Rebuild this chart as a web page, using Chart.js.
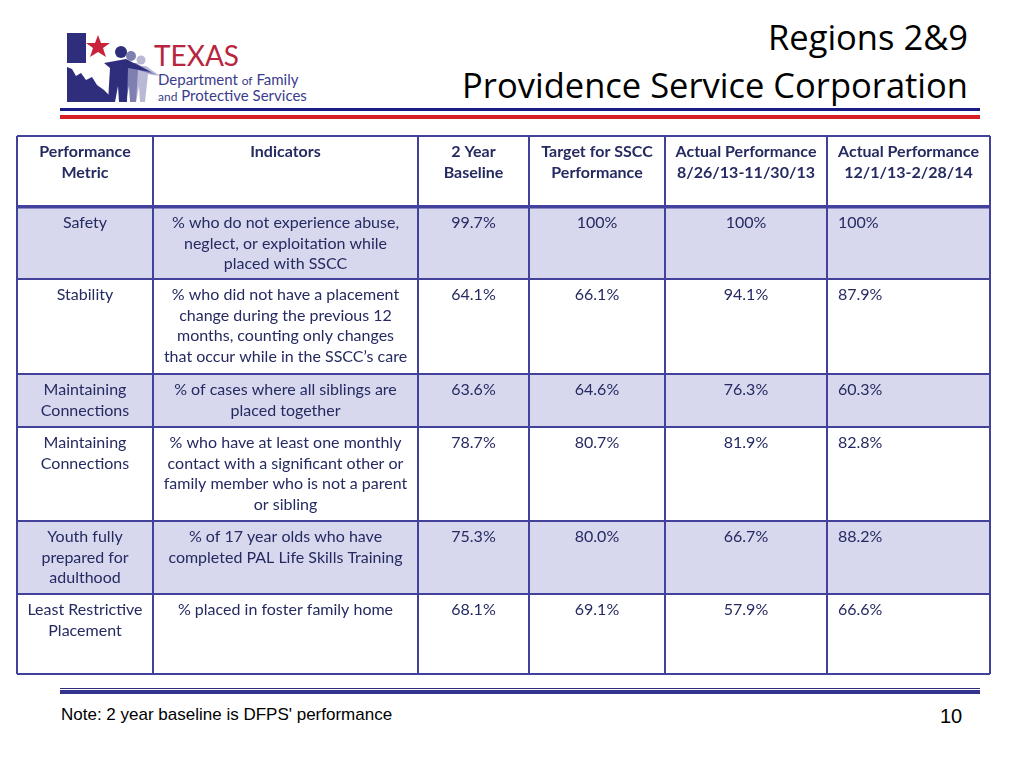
<!DOCTYPE html>
<html>
<head>
<meta charset="utf-8">
<script src="https://cdn.jsdelivr.net/npm/chart.js@4/dist/chart.umd.min.js"></script>
<style>
  html, body { margin: 0; padding: 0; background: #fff; }
  body { width: 1024px; height: 768px; position: relative; overflow: hidden; font-family: Lato, sans-serif; }
  .title { position: absolute; right: 56px; font-family: "Open Sans", sans-serif; font-size: 34.5px; line-height: 42px; color: #000; white-space: nowrap; }
  .rule { position: absolute; left: 60px; width: 920px; }
  #tableBox { position: absolute; left: 15px; top: 134px; width: 977px; height: 542px; }
  .note { position: absolute; left: 61px; top: 705px; font: 17px "Liberation Sans", Arial, sans-serif; color: #000; }
  .page { position: absolute; left: 940px; top: 705px; font: 20px "Liberation Sans", Arial, sans-serif; color: #000; }
</style>
</head>
<body>

<svg style="position:absolute;left:0;top:0" width="310" height="112" viewBox="0 0 310 112">
  <rect x="67" y="33" width="19" height="30" fill="#2e2e7c"/>
  <path d="M67,67 L72,69 L76,76 L81,73 L86,80 L92,77 L97,85 L104,90 L110,96 L114,102 L67,102 Z" fill="#2e2e7c"/>
  <polygon points="98,35 101,43 110,43 103,48 106,57 98,52 90,57 93,48 86,43 95,43" fill="#c8233a"/>
  <g fill="#b9b9d6">
    <circle cx="141" cy="60" r="4.5"/>
    <path d="M136,66 L146,66 L160,76 L148,74 L145,102 L140,102 L139,86 L136,102 L132,102 Z"/>
  </g>
  <g fill="#7f7fb2">
    <circle cx="131" cy="56" r="5"/>
    <path d="M125,63 L136,63 L156,75 L138,70 L136,102 L130,102 L129,86 L126,102 L121,102 Z"/>
  </g>
  <g fill="#2e2e7c">
    <circle cx="121" cy="52" r="6"/>
    <path d="M104,63 L126,59 L151,72 L128,68 L127,102 L119,102 L118,86 L115,102 L108,102 L110,68 Z"/>
  </g>
  <text x="154" y="66" font-family="Lato, sans-serif" font-size="28" fill="#b8253c">TEXAS</text>
  <text x="158" y="85" font-family="Lato, sans-serif" font-size="15" fill="#3c3c8c">Department <tspan font-size="12">of</tspan> Family</text>
  <text x="158" y="101" font-family="Lato, sans-serif" font-size="15" fill="#3c3c8c"><tspan font-size="12">and</tspan> Protective Services</text>
</svg>

<div class="title" style="top:16px">Regions 2&amp;9</div>
<div class="title" style="top:64px">Providence Service Corporation</div>

<div class="rule" style="top:108px;height:3px;background:#1c1c86"></div>
<div class="rule" style="top:115px;height:4px;background:#d81f26"></div>

<div id="tableBox"><canvas id="tableChart"></canvas></div>

<div class="rule" style="top:688px;height:1px;background:#2c2c7a"></div>
<div class="rule" style="top:690px;height:4px;background:#34348e"></div>

<div class="note">Note: 2 year baseline is DFPS' performance</div>
<div class="page">10</div>

<script>
// table content
const headerLabels = [
  ['Performance', 'Metric'],
  ['Indicators'],
  ['2 Year', 'Baseline'],
  ['Target for SSCC', 'Performance'],
  ['Actual Performance', '8/26/13-11/30/13'],
  ['Actual Performance', '12/1/13-2/28/14']
];
const metricLabels = [
  ['Safety'],
  ['Stability'],
  ['Maintaining', 'Connections'],
  ['Maintaining', 'Connections'],
  ['Youth fully', 'prepared for', 'adulthood'],
  ['Least Restrictive', 'Placement']
];
const indicatorLabels = [
  ['% who do not experience abuse,', 'neglect, or exploitation while', 'placed with SSCC'],
  ['% who did not have a placement', 'change during the previous 12', 'months, counting only changes', 'that occur while in the SSCC\u2019s care'],
  ['% of cases where all siblings are', 'placed together'],
  ['% who have at least one monthly', 'contact with a significant other or', 'family member who is not a parent', 'or sibling'],
  ['% of 17 year olds who have', 'completed PAL Life Skills Training'],
  ['% placed in foster family home']
];
const baseline   = [99.7, 64.1, 63.6, 78.7, 75.3, 68.1];
const targetSSCC = [100, 66.1, 64.6, 80.7, 80.0, 69.1];
const actualQ1   = [100, 94.1, 76.3, 81.9, 66.7, 57.9];
const actualQ2   = [100, 87.9, 60.3, 82.8, 88.2, 66.6];

// layout (px)
const colWidths = [136, 265, 111, 136, 162, 163];
const rowHeights = [71, 72, 95, 53, 94, 73, 80];
const shadedRows = [1, 3, 5];

function edges(sizes) {
  const out = [0];
  sizes.forEach(s => out.push(out[out.length - 1] + s));
  return out;
}
const colEdges = edges(colWidths);
const rowEdges = edges(rowHeights);

function fmtPct(v) { return v === 100 ? '100%' : v.toFixed(1) + '%'; }

const LINE_H = 20.6;
const TEXT_COLOR = '#252a60';
const GRID_COLOR = '#42429c';

function drawLines(ctx, lines, x, yTop) {
  lines.forEach((t, i) => ctx.fillText(t, x, yTop + 16 + i * LINE_H));
}

const tablePlugin = {
  id: 'tableCells',
  beforeDraw(chart) {
    const { ctx, scales: { x, y } } = chart;
    ctx.save();
    ctx.fillStyle = '#d7d7ee';
    shadedRows.forEach(r => {
      const top = y.getPixelForValue(rowEdges[r]);
      const bot = y.getPixelForValue(rowEdges[r + 1]);
      ctx.fillRect(x.getPixelForValue(0), top, x.getPixelForValue(colEdges[colEdges.length - 1]) - x.getPixelForValue(0), bot - top);
    });
    ctx.restore();
  },
  afterDraw(chart) {
    const { ctx, scales: { x, y } } = chart;
    const colCenter = c => x.getPixelForValue((colEdges[c] + colEdges[c + 1]) / 2);
    ctx.save();
    ctx.fillStyle = TEXT_COLOR;
    ctx.textBaseline = 'middle';

    // header
    ctx.font = 'bold 16px Lato';
    ctx.textAlign = 'center';
    headerLabels.forEach((lines, c) => drawLines(ctx, lines, colCenter(c), y.getPixelForValue(rowEdges[0])));

    // body rows
    ctx.font = '16px Lato';
    const valueCols = [baseline, targetSSCC, actualQ1];
    metricLabels.forEach((m, i) => {
      const top = y.getPixelForValue(rowEdges[i + 1]);
      ctx.textAlign = 'center';
      drawLines(ctx, m, colCenter(0), top);
      drawLines(ctx, indicatorLabels[i], colCenter(1), top);
      valueCols.forEach((arr, k) => drawLines(ctx, [fmtPct(arr[i])], colCenter(k + 2), top));
      ctx.textAlign = 'left';
      drawLines(ctx, [fmtPct(actualQ2[i])], x.getPixelForValue(colEdges[5]) + 11, top);
    });
    ctx.restore();
  }
};

function init() {
  const ctx = document.getElementById('tableChart').getContext('2d');
  new Chart(ctx, {
    type: 'scatter',
    data: { datasets: [{ data: [] }] },
    plugins: [tablePlugin],
    options: {
      responsive: true,
      maintainAspectRatio: false,
      animation: false,
      events: [],
      layout: { padding: 2 },
      plugins: { legend: { display: false }, tooltip: { enabled: false } },
      scales: {
        x: {
          type: 'linear', min: 0, max: colEdges[colEdges.length - 1],
          afterBuildTicks: s => { s.ticks = colEdges.map(v => ({ value: v })); },
          ticks: { display: false },
          border: { display: false },
          grid: { color: GRID_COLOR, lineWidth: 2, drawTicks: false }
        },
        y: {
          type: 'linear', reverse: true, min: 0, max: rowEdges[rowEdges.length - 1],
          afterBuildTicks: s => { s.ticks = rowEdges.map(v => ({ value: v })); },
          ticks: { display: false },
          border: { display: false },
          grid: { color: GRID_COLOR, lineWidth: c => (c.tick && c.tick.value === rowEdges[1] ? 3.5 : 2), drawTicks: false }
        }
      }
    }
  });
}

document.fonts.load('16px Lato').then(() => document.fonts.load('bold 16px Lato')).then(init, init);
</script>
</body>
</html>
